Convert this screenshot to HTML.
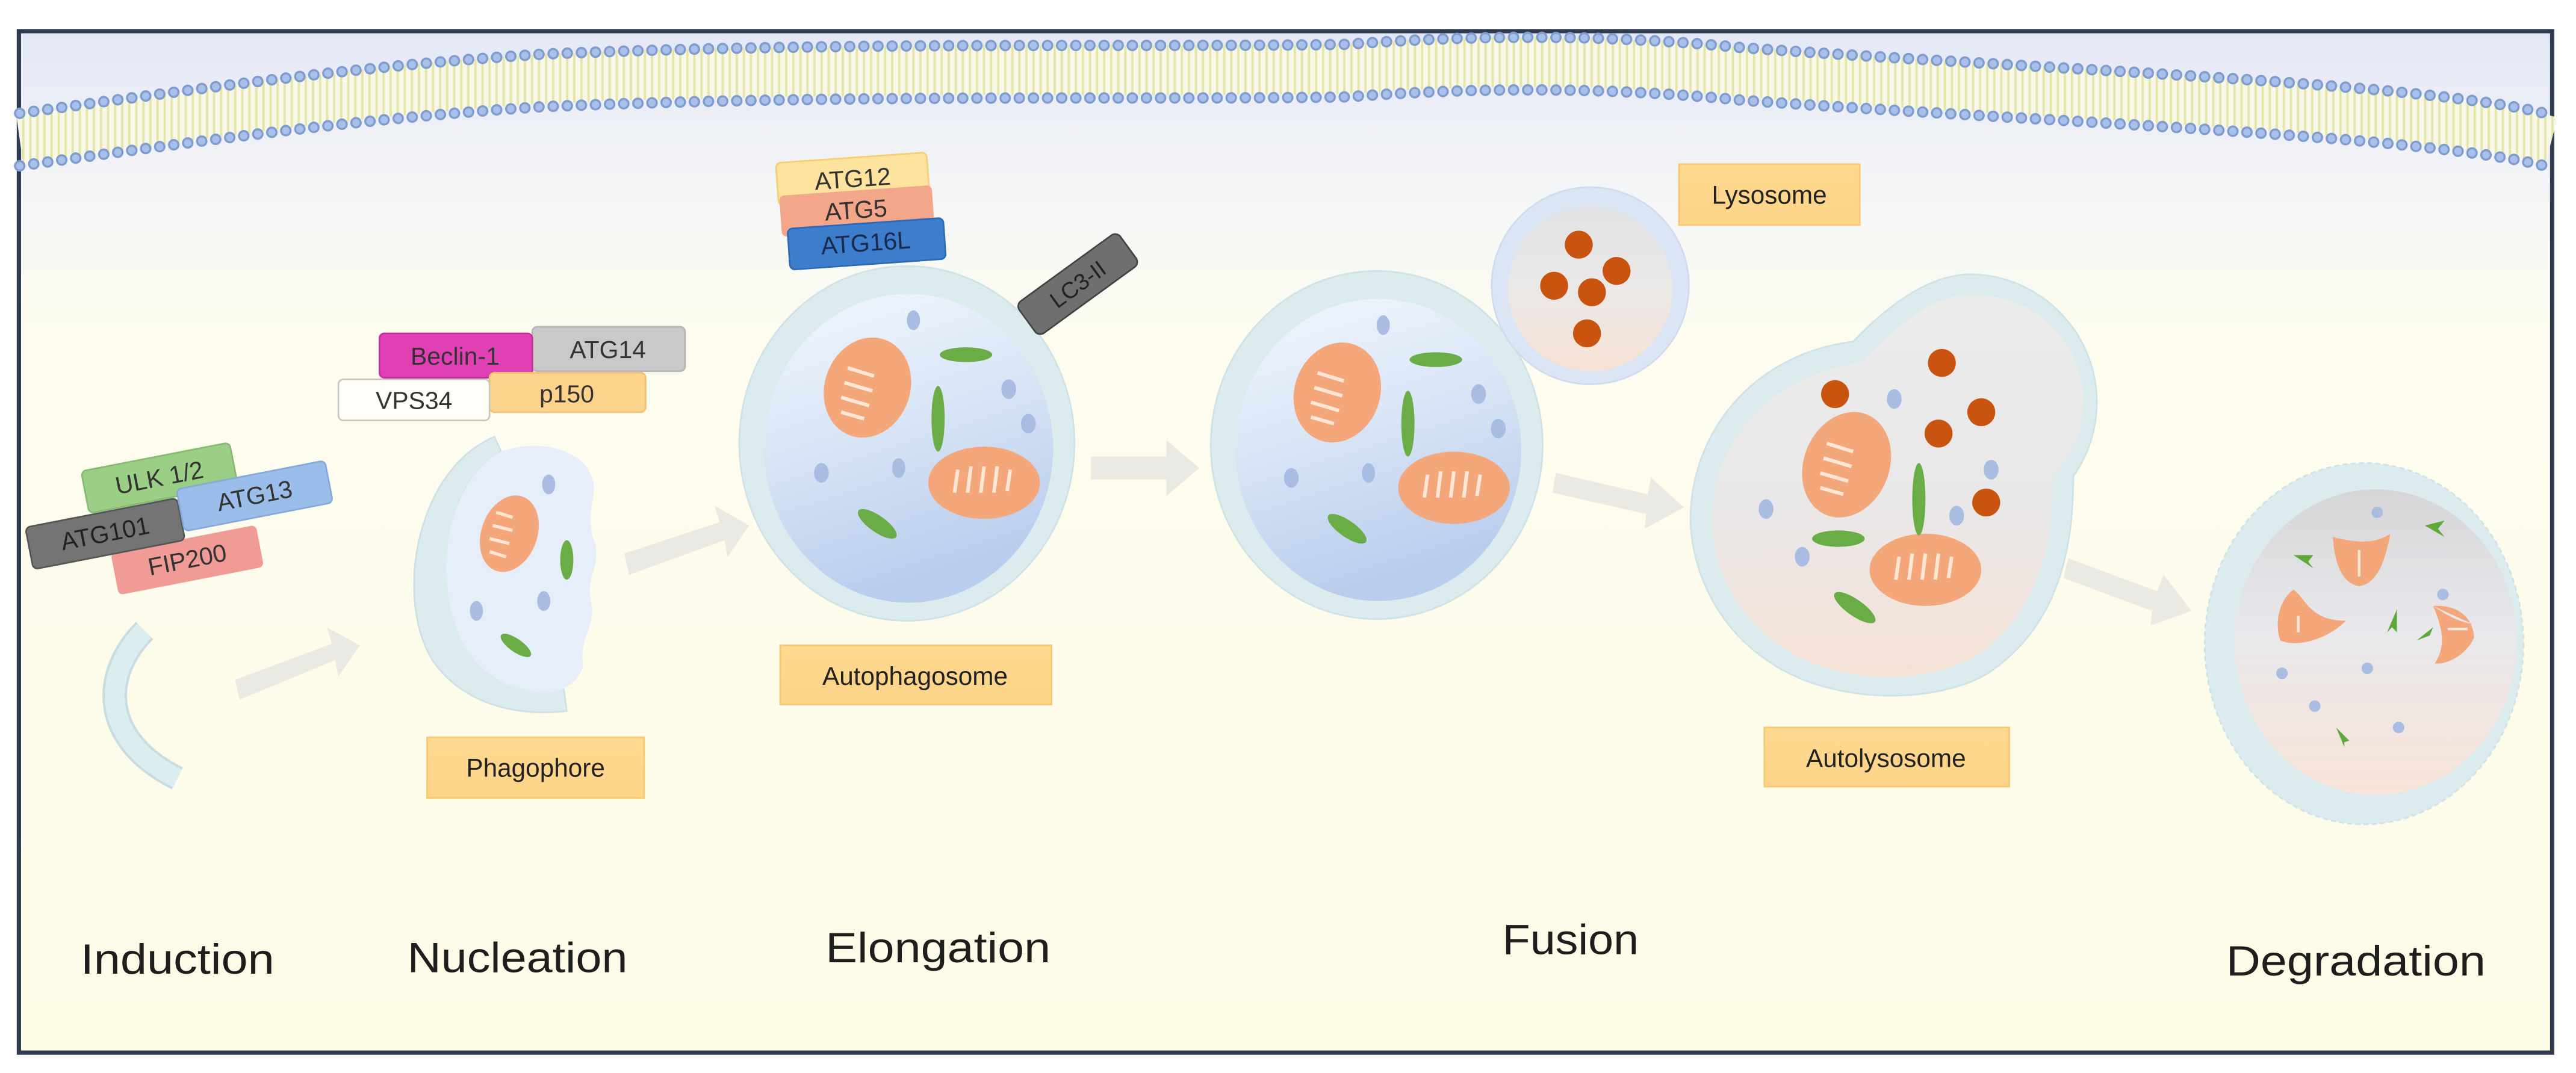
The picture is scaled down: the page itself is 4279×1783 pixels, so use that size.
<!DOCTYPE html>
<html><head><meta charset="utf-8"><style>
html,body{margin:0;padding:0;background:#fff;}
svg{display:block;}
text{font-family:"Liberation Sans",sans-serif;}
</style></head><body>
<svg width="4279" height="1783" viewBox="0 0 1568 653.4" preserveAspectRatio="none" xmlns="http://www.w3.org/2000/svg">
<defs>
<linearGradient id="bg" x1="0" y1="0" x2="0" y2="1">
<stop offset="0" stop-color="#e4e8f6"/><stop offset="0.18" stop-color="#f6f7f6"/><stop offset="0.3" stop-color="#fdfcef"/><stop offset="1" stop-color="#fdfbe6"/>
</linearGradient>
<pattern id="tails" width="4.3" height="10" patternUnits="userSpaceOnUse">
<rect width="4.3" height="10" fill="#f7f7ea"/><rect x="0.6" width="1.4" height="10" fill="#e6e6a6"/>
</pattern>
<linearGradient id="apg" x1="0" y1="0" x2="0.3" y2="1">
<stop offset="0" stop-color="#f2f7fd"/><stop offset="0.5" stop-color="#d9e5f6"/><stop offset="1" stop-color="#b9cdec"/>
</linearGradient>
<linearGradient id="lyg" x1="0" y1="0" x2="0" y2="1">
<stop offset="0" stop-color="#e2e2e4"/><stop offset="0.5" stop-color="#ebe8e8"/><stop offset="1" stop-color="#f7e2d4"/>
</linearGradient>
<linearGradient id="alg" x1="0" y1="0" x2="0" y2="1">
<stop offset="0" stop-color="#ececec"/><stop offset="0.55" stop-color="#e9e7e8"/><stop offset="1" stop-color="#f6e2d6"/>
</linearGradient>
<linearGradient id="dgg" x1="0" y1="0" x2="0" y2="1">
<stop offset="0" stop-color="#d6d6d8"/><stop offset="0.45" stop-color="#e8e8ec"/><stop offset="1" stop-color="#f8e4d8"/>
</linearGradient>
<linearGradient id="lab" x1="0" y1="0" x2="0" y2="1">
<stop offset="0" stop-color="#fed98f"/><stop offset="1" stop-color="#fdd488"/>
</linearGradient>
<g id="mito">
<ellipse cx="0" cy="0" rx="1" ry="1" fill="#f3a77a"/>
</g>
</defs>

<rect x="11.5" y="19" width="1542" height="622" fill="url(#bg)" stroke="#2e3a4d" stroke-width="2.6"/>

<!-- membrane -->
<path d="M12,85 C120,70 220,55 330,48 C520,40 700,44 820,42 C900,36 980,36 1060,44 C1200,54 1340,60 1450,70 C1500,75 1530,80 1553,86" fill="none" stroke="url(#tails)" stroke-width="30"/>
<path d="M12,69 C120,54 220,40 330,33 C520,25 700,29 820,27 C900,21 980,21 1060,29 C1200,39 1340,45 1450,55 C1500,60 1530,64 1553,70" fill="none" stroke="#7f9ccf" stroke-width="7" stroke-dasharray="0 8.6" stroke-linecap="round"/>
<path d="M12,69 C120,54 220,40 330,33 C520,25 700,29 820,27 C900,21 980,21 1060,29 C1200,39 1340,45 1450,55 C1500,60 1530,64 1553,70" fill="none" stroke="#a9c0ea" stroke-width="4.5" stroke-dasharray="0 8.6" stroke-linecap="round"/>
<path d="M12,101 C120,86 220,72 330,65 C520,57 700,61 820,59 C900,53 980,53 1060,61 C1200,71 1340,77 1450,87 C1500,92 1530,96 1553,102" fill="none" stroke="#7f9ccf" stroke-width="7" stroke-dasharray="0 8.6" stroke-linecap="round"/>
<path d="M12,101 C120,86 220,72 330,65 C520,57 700,61 820,59 C900,53 980,53 1060,61 C1200,71 1340,77 1450,87 C1500,92 1530,96 1553,102" fill="none" stroke="#a9c0ea" stroke-width="4.5" stroke-dasharray="0 8.6" stroke-linecap="round"/>

<!-- arrows -->
<g fill="#ebe9e3">
<polygon points="143,414 202,392 199,382 219,393 206,412 204,402 146,426"/>
<polygon points="380,337 438,318 435,308 456,320 443,339 441,329 383,350"/>
<polygon points="664,278 710,278 710,268 730,285 710,302 710,292 664,292"/>
<polygon points="947,288 1003,301 1005,291 1025,309 1001,322 1002,313 945,300"/>
<polygon points="1259,340 1313,360 1317,350 1334,372 1309,381 1310,372 1256,352"/>
</g>

<!-- Induction -->
<path d="M88,384 C62,410 60,450 108,474" fill="none" stroke="#c9dde0" stroke-width="15"/>
<path d="M88,384 C62,410 60,450 108,474" fill="none" stroke="#dcedf0" stroke-width="12"/>
<g font-size="15" fill="#333" text-anchor="middle">
<g transform="translate(97,291) rotate(-11)"><rect x="-46" y="-13" width="92" height="26" rx="3" fill="#9ccf86" stroke="#86bb72"/><text x="0" y="5">ULK 1/2</text></g>
<g transform="translate(114,341) rotate(-11)"><rect x="-45" y="-13" width="90" height="26" rx="3" fill="#f09b96"/><text x="0" y="5">FIP200</text></g>
<g transform="translate(64,325) rotate(-11)"><rect x="-47" y="-13" width="94" height="26" rx="3" fill="#747474" stroke="#555"/><text x="0" y="5" fill="#222">ATG101</text></g>
<g transform="translate(155,302) rotate(-11)"><rect x="-46" y="-13" width="92" height="26" rx="3" fill="#9bbde9" stroke="#86a9d8"/><text x="0" y="5">ATG13</text></g>
</g>
<text x="108" y="593" font-size="26" fill="#1e1e1e" text-anchor="middle" textLength="118" lengthAdjust="spacingAndGlyphs">Induction</text>

<!-- Nucleation -->
<g font-size="15" fill="#333" text-anchor="middle">
<rect x="324" y="199" width="93" height="27" rx="3" fill="#c9c9c9" stroke="#b5b5b5"/><text x="370" y="218">ATG14</text>
<rect x="231" y="203" width="93" height="27" rx="3" fill="#e040b4" stroke="#c42e9a"/><text x="277" y="222">Beclin-1</text>
<rect x="298" y="227" width="95" height="24" rx="3" fill="#fcd28c" stroke="#f2c070"/><text x="345" y="245">p150</text>
<rect x="206" y="231" width="92" height="25" rx="3" fill="#fffef8" stroke="#c8c8c0"/><text x="252" y="249">VPS34</text>
</g>
<path d="M301,266 C255,285 240,360 262,400 C278,426 310,437 345,433 L343,418 C310,420 285,400 276,362 C268,322 280,290 305,275 Z" fill="#dcebee" stroke="#cfe0e4"/>
<path d="M305,275 C330,266 355,275 360,290 C365,302 355,312 362,330 C366,345 356,352 360,367 C363,382 352,388 355,406 C350,420 335,425 320,420 C292,414 275,392 272,355 C269,316 285,285 305,275 Z" fill="#e5eef9"/>
<ellipse cx="310" cy="325" rx="17" ry="24" transform="rotate(20 310 325)" fill="#f3a77a"/>
<path d="M302,312 l10,3 M300,320 l12,3 M298,328 l12,3 M298,336 l10,3" stroke="#fde4d2" stroke-width="2"/>
<ellipse cx="345" cy="341" rx="4" ry="12" fill="#6aac45"/>
<ellipse cx="314" cy="393" rx="11" ry="4" transform="rotate(35 314 393)" fill="#6aac45"/>
<g fill="#a9bde3"><ellipse cx="334" cy="295" rx="4" ry="6"/><ellipse cx="290" cy="372" rx="4" ry="6"/><ellipse cx="331" cy="366" rx="4" ry="6"/></g>
<rect x="260" y="449" width="132" height="37" fill="url(#lab)" stroke="#f6c870"/>
<text x="326" y="473" font-size="15.5" fill="#222" text-anchor="middle">Phagophore</text>
<text x="315" y="592" font-size="26" fill="#1e1e1e" text-anchor="middle" textLength="134" lengthAdjust="spacingAndGlyphs">Nucleation</text>

<!-- Elongation -->
<g font-size="15" fill="#333" text-anchor="middle">
<g transform="translate(519,109) rotate(-4)"><rect x="-46" y="-13" width="92" height="26" rx="3" fill="#fde39e" stroke="#f5cf70"/><text x="0" y="5">ATG12</text></g>
<g transform="translate(521,128) rotate(-4)"><rect x="-46" y="-12" width="93" height="25" rx="3" fill="#f4a68a"/><text x="0" y="5">ATG5</text></g>
<g transform="translate(527,148) rotate(-4)"><rect x="-47" y="-12" width="95" height="25" rx="3" fill="#3c7dcc" stroke="#2d69b6"/><text x="0" y="5" fill="#1a2a4a">ATG16L</text></g>
</g>
<ellipse cx="552" cy="270" rx="102" ry="108" fill="#dcebee" stroke="#cfe2e6"/>
<ellipse cx="553" cy="273" rx="88" ry="94" fill="url(#apg)"/>
<g transform="translate(656,173) rotate(-36)"><rect x="-38" y="-12" width="76" height="24" rx="4" fill="#6f6f6f" stroke="#444"/><text x="0" y="5" font-size="14" fill="#222" text-anchor="middle">LC3-II</text></g>
<g id="apcontent">
<ellipse cx="528" cy="236" rx="26" ry="31" transform="rotate(20 528 236)" fill="#f3a77a"/>
<path d="M516,224 l16,5 M514,233 l17,5 M512,242 l17,5 M512,251 l14,4" stroke="#fde6d6" stroke-width="2.2"/>
<ellipse cx="599" cy="294" rx="34" ry="22" fill="#f3a77a"/>
<path d="M583,286 l-2,14 M591,284 l-2,16 M599,284 l-2,16 M607,284 l-2,16 M615,286 l-2,13" stroke="#fde6d6" stroke-width="2.2"/>
<ellipse cx="588" cy="216" rx="16" ry="4.5" fill="#6aac45"/>
<ellipse cx="571" cy="255" rx="4" ry="20" fill="#6aac45"/>
<ellipse cx="534" cy="319" rx="14" ry="5" transform="rotate(35 534 319)" fill="#6aac45"/>
<g fill="#a9bde3"><ellipse cx="556" cy="195" rx="4" ry="6"/><ellipse cx="614" cy="237" rx="4.5" ry="6"/><ellipse cx="626" cy="258" rx="4.5" ry="6"/><ellipse cx="500" cy="288" rx="4.5" ry="6"/><ellipse cx="547" cy="285" rx="4" ry="6"/></g>
</g>
<rect x="475" y="393" width="165" height="36" fill="url(#lab)" stroke="#f6c870"/>
<text x="557" y="417" font-size="15.5" fill="#222" text-anchor="middle">Autophagosome</text>
<text x="571" y="586" font-size="26" fill="#1e1e1e" text-anchor="middle" textLength="137" lengthAdjust="spacingAndGlyphs">Elongation</text>

<!-- Fusion -->
<ellipse cx="838" cy="271" rx="101" ry="106" fill="#dcebee" stroke="#cfe2e6"/>
<ellipse cx="839" cy="274" rx="87" ry="92" fill="url(#apg)"/>
<use href="#apcontent" transform="translate(286,3)"/>
<circle cx="968" cy="174" r="60" fill="#dbe5f4" stroke="#cfdbee"/>
<circle cx="968" cy="176" r="50" fill="url(#lyg)"/>
<g fill="#c9540f"><circle cx="961" cy="149" r="8.5"/><circle cx="984" cy="165" r="8.5"/><circle cx="946" cy="174" r="8.5"/><circle cx="969" cy="178" r="8.5"/><circle cx="966" cy="203" r="8.5"/></g>
<rect x="1022" y="100" width="110" height="37" fill="url(#lab)" stroke="#f6c870"/>
<text x="1077" y="124" font-size="15.5" fill="#222" text-anchor="middle">Lysosome</text>

<path d="M1200,167 A78,78 0 0 1 1262,290 C1262,330 1255,380 1210,410 C1180,428 1120,430 1080,405 C1040,380 1029,340 1029,315 C1030,260 1070,215 1128,208 C1150,185 1175,167 1200,167 Z" fill="#dcebee" stroke="#cfe2e6"/>
<path d="M1200,180 A65,65 0 0 1 1250,290 C1250,330 1242,370 1205,398 C1175,417 1122,418 1086,395 C1052,372 1042,340 1042,315 C1043,268 1078,228 1133,221 C1155,198 1175,180 1200,180 Z" fill="url(#alg)"/>
<ellipse cx="1124" cy="283" rx="26" ry="33" transform="rotate(22 1124 283)" fill="#f3a77a"/>
<path d="M1112,270 l16,5 M1110,279 l17,5 M1108,288 l17,5 M1108,297 l14,4" stroke="#fde6d6" stroke-width="2.2"/>
<ellipse cx="1172" cy="347" rx="34" ry="22" fill="#f3a77a"/>
<path d="M1156,339 l-2,14 M1164,337 l-2,16 M1172,337 l-2,16 M1180,337 l-2,16 M1188,339 l-2,13" stroke="#fde6d6" stroke-width="2.2"/>
<g fill="#c9540f"><circle cx="1117" cy="240" r="8.5"/><circle cx="1182" cy="221" r="8.5"/><circle cx="1206" cy="251" r="8.5"/><circle cx="1180" cy="264" r="8.5"/><circle cx="1209" cy="306" r="8.5"/></g>
<g fill="#a9bde3"><ellipse cx="1153" cy="243" rx="4.5" ry="6"/><ellipse cx="1212" cy="286" rx="4.5" ry="6"/><ellipse cx="1191" cy="314" rx="4.5" ry="6"/><ellipse cx="1075" cy="310" rx="4.5" ry="6"/><ellipse cx="1097" cy="339" rx="4.5" ry="6"/></g>
<ellipse cx="1168" cy="304" rx="4" ry="22" fill="#6aac45"/>
<ellipse cx="1119" cy="328" rx="16" ry="5" fill="#6aac45"/>
<ellipse cx="1129" cy="370" rx="15" ry="5" transform="rotate(35 1129 370)" fill="#6aac45"/>
<rect x="1074" y="443" width="149" height="36" fill="url(#lab)" stroke="#f6c870"/>
<text x="1148" y="467" font-size="15.5" fill="#222" text-anchor="middle">Autolysosome</text>
<text x="956" y="581" font-size="26" fill="#1e1e1e" text-anchor="middle" textLength="83" lengthAdjust="spacingAndGlyphs">Fusion</text>

<!-- Degradation -->
<ellipse cx="1439" cy="392" rx="97" ry="110" fill="#dcebee" stroke="#cfe2e6" stroke-dasharray="3 2"/>
<ellipse cx="1446" cy="391" rx="86" ry="93" fill="url(#dgg)"/>
<g fill="#f3a77a">
<path d="M1420,327 C1432,330 1445,332 1455,325 C1452,340 1448,355 1436,357 C1425,355 1421,342 1420,327 Z"/>
<path d="M1396,359 C1404,365 1406,378 1428,378 C1418,388 1400,395 1388,390 C1384,378 1388,365 1396,359 Z"/>
<path d="M1481,369 C1495,368 1505,375 1506,388 C1502,398 1490,405 1482,404 C1488,395 1488,385 1481,369 Z M1481,369 C1490,375 1495,378 1505,380 Z"/>
</g>
<g stroke="#fde6d6" stroke-width="1.6"><path d="M1436,335 v16 M1399,375 v10 M1490,383 h12"/></g>
<g fill="#5fa93c">
<path d="M1476,320 l12,-3 l-4,5 l4,5 z"/><path d="M1396,338 l12,0 l-3,4 l3,4 z"/>
<path d="M1459,371 l0,14 l-3,-3 l-3,3 z"/><path d="M1471,390 l10,-8 l-2,5 z"/><path d="M1422,443 l8,8 l-3,1 l0,3 z"/>
</g>
<g fill="#a9bde3"><circle cx="1447" cy="312" r="3.5"/><circle cx="1487" cy="362" r="3.5"/><circle cx="1389" cy="410" r="3.5"/><circle cx="1441" cy="407" r="3.5"/><circle cx="1409" cy="430" r="3.5"/><circle cx="1460" cy="443" r="3.5"/></g>
<text x="1434" y="594" font-size="26" fill="#1e1e1e" text-anchor="middle" textLength="158" lengthAdjust="spacingAndGlyphs">Degradation</text>
</svg>
</body></html>
